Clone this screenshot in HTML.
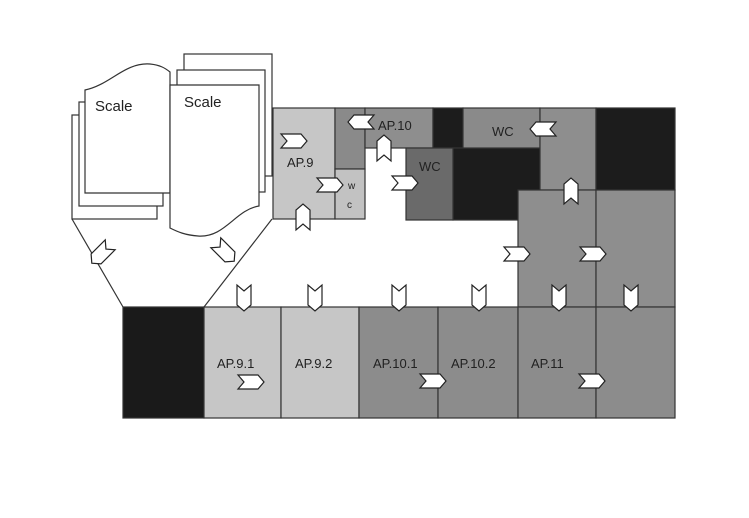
<!DOCTYPE html>
<html><head><style>body{margin:0;background:#fff}svg{display:block}</style></head><body>
<svg width="749" height="518" viewBox="0 0 749 518" xmlns="http://www.w3.org/2000/svg">
<defs>
<path id="ch" d="M-13,-7 L7,-7 L13,0 L7,7 L-13,7 L-7,0 Z" fill="#fff" stroke="#222" stroke-width="1.2"/>
</defs>
<g stroke="#333" stroke-width="1.2">
<rect x="273" y="108" width="62" height="111" fill="#c6c6c6"/>
<rect x="335" y="108" width="30" height="61" fill="#8a8a8a"/>
<rect x="335" y="169" width="30" height="50" fill="#c2c2c2"/>
<rect x="365" y="108" width="68" height="40" fill="#8e8e8e"/>
<rect x="433" y="108" width="30" height="40" fill="#1c1c1c"/>
<rect x="453" y="148" width="87" height="72" fill="#1c1c1c"/>
<rect x="463" y="108" width="77" height="40" fill="#8a8a8a"/>
<rect x="406" y="148" width="47" height="72" fill="#6a6a6a"/>
<rect x="540" y="108" width="56" height="82" fill="#8e8e8e"/>
<rect x="596" y="108" width="79" height="82" fill="#1c1c1c"/>
<rect x="518" y="190" width="78" height="117" fill="#8e8e8e"/>
<rect x="596" y="190" width="79" height="117" fill="#8e8e8e"/>
<rect x="123" y="307" width="81" height="111" fill="#1a1a1a"/>
<rect x="204" y="307" width="77" height="111" fill="#c6c6c6"/>
<rect x="281" y="307" width="78" height="111" fill="#c6c6c6"/>
<rect x="359" y="307" width="79" height="111" fill="#8c8c8c"/>
<rect x="438" y="307" width="80" height="111" fill="#8c8c8c"/>
<rect x="518" y="307" width="78" height="111" fill="#8c8c8c"/>
<rect x="596" y="307" width="79" height="111" fill="#8c8c8c"/>
</g>
<g stroke="#333" stroke-width="1.2" fill="#fff">
<line x1="72" y1="219" x2="123" y2="307"/>
<line x1="272" y1="219" x2="204" y2="307"/>
<rect x="72" y="115" width="85" height="104"/>
<rect x="79" y="102" width="84" height="104"/>
<path d="M85,90 C110,85 125,62 150,64 C160,65 165,68 170,72 L170,193 L85,193 Z"/>
<rect x="184" y="54" width="88" height="122"/>
<rect x="177" y="70" width="88" height="122"/>
<path d="M170,85 L259,85 L259,206 C235,210 225,238 198,236 C185,235 178,232 170,228 Z"/>
</g>
<g font-family="Liberation Sans, sans-serif" fill="#222">
<text x="95" y="111" font-size="15">Scale</text>
<text x="184" y="107" font-size="15">Scale</text>
<g font-size="13">
<text x="287" y="167">AP.9</text>
<text x="378" y="130">AP.10</text>
<text x="492" y="136">WC</text>
<text x="419" y="171">WC</text>
<text x="217" y="368">AP.9.1</text>
<text x="295" y="368">AP.9.2</text>
<text x="373" y="368">AP.10.1</text>
<text x="451" y="368">AP.10.2</text>
<text x="531" y="368">AP.11</text>
</g>
<text x="348" y="189" font-size="10">w</text>
<text x="347" y="208" font-size="10">c</text>
</g>
<g>
<use href="#ch" transform="translate(294,141)"/>
<use href="#ch" transform="translate(330,185)"/>
<use href="#ch" transform="translate(405,183)"/>
<use href="#ch" transform="translate(517,254)"/>
<use href="#ch" transform="translate(593,254)"/>
<use href="#ch" transform="translate(251,382)"/>
<use href="#ch" transform="translate(433,381)"/>
<use href="#ch" transform="translate(592,381)"/>
<use href="#ch" transform="translate(361,122) rotate(180)"/>
<use href="#ch" transform="translate(543,129) rotate(180)"/>
<use href="#ch" transform="translate(384,148) rotate(-90)"/>
<use href="#ch" transform="translate(571,191) rotate(-90)"/>
<use href="#ch" transform="translate(303,217) rotate(-90)"/>
<use href="#ch" transform="translate(244,298) rotate(90)"/>
<use href="#ch" transform="translate(315,298) rotate(90)"/>
<use href="#ch" transform="translate(399,298) rotate(90)"/>
<use href="#ch" transform="translate(479,298) rotate(90)"/>
<use href="#ch" transform="translate(559,298) rotate(90)"/>
<use href="#ch" transform="translate(631,298) rotate(90)"/>
<use href="#ch" transform="translate(101,254) rotate(135)"/>
<use href="#ch" transform="translate(225,252) rotate(45)"/>
</g>
</svg>
</body></html>
